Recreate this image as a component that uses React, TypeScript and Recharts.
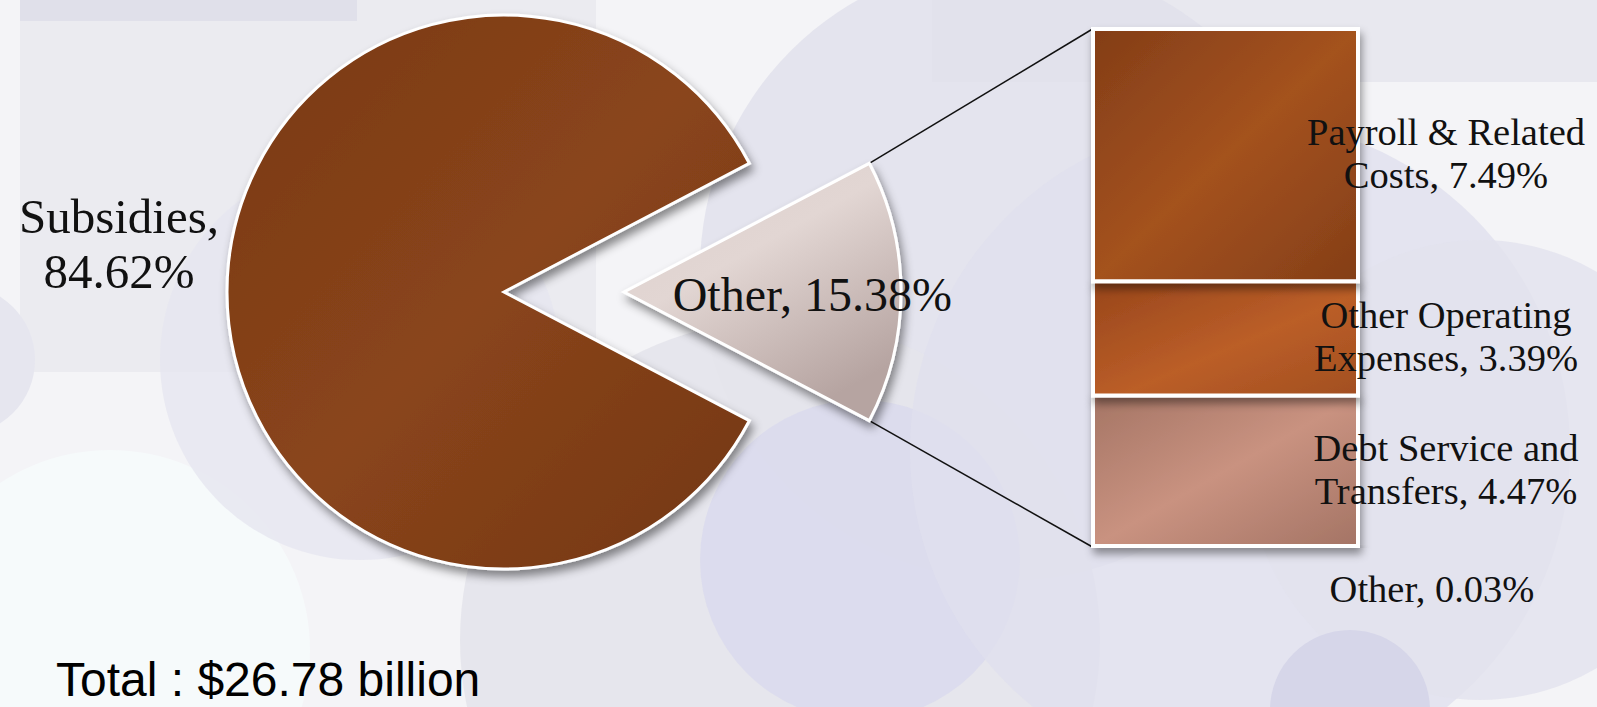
import { PieChart, Pie, Cell, BarChart, Bar, XAxis, YAxis, LabelList } from 'recharts';

// pie: main split
const pieNames = ['Subsidies', 'Other'];
const pieValues = [84.62, 15.38];

// bar: breakdown of "Other", listed bottom to top
const barKeys = ['other', 'debt', 'otherOp', 'payroll'];
const barLines = [['Other'], ['Debt Service and', 'Transfers'], ['Other Operating', 'Expenses'], ['Payroll & Related', 'Costs']];
const barValues = [0.03, 4.47, 3.39, 7.49];

const totalLabel = 'Total : $26.78 billion';

const W = 1597;
const H = 707;
const PIE_CX = 504;
const PIE_CY = 292;
const PIE_R = 277;
const EXPLODE = 120;
const BAR_TOP = 29;
const BAR_BOTTOM = 547;
const BAR_SIZE = 265;
const BAR_W = 736;
const BAR_CENTER = 1225;
const BAR_LEFT = BAR_CENTER - BAR_W / 2;

const serif = '"Liberation Serif", "DejaVu Serif", serif';

const pieData = pieNames.map((name, i) => ({ name, value: pieValues[i] }));
const pieSum = pieValues.reduce((a, b) => a + b, 0);
const half = (pieValues[1] / pieSum) * 180;

const barRow: Record<string, any> = { name: 'Other' };
barKeys.forEach((k, i) => (barRow[k] = barValues[i]));
const barSum = barValues.reduce((a, b) => a + b, 0);

const barFills = ['#7a3a1a', 'url(#gDebt)', 'url(#gOp)', 'url(#gPay)'];

function SubsidiesLabel(props: any) {
  const { cx, cy, outerRadius, midAngle, index, value } = props;
  if (index !== 0) return null;
  const rad = (midAngle * Math.PI) / 180;
  const x = cx + (outerRadius + 108) * Math.cos(rad);
  const y = cy - (outerRadius + 108) * Math.sin(rad);
  return (
    <text x={x} y={y} textAnchor="middle" fontFamily={serif} fontSize={49} fill="#111">
      <tspan x={x} dy={-59}>{pieNames[index]},</tspan>
      <tspan x={x} dy={55}>{value}%</tspan>
    </text>
  );
}

function OtherLabel(props: any) {
  const { cx, cy, outerRadius, midAngle, index, value } = props;
  if (index !== 1) return null;
  const rad = (midAngle * Math.PI) / 180;
  const x = cx + outerRadius * 0.68 * Math.cos(rad);
  const y = cy - outerRadius * 0.68 * Math.sin(rad);
  return (
    <text x={x} y={y + 19} textAnchor="middle" fontFamily={serif} fontSize={48} fill="#111">
      {pieNames[index]}, {value}%
    </text>
  );
}

function barLabel(i: number) {
  return (props: any) => {
    const { x, y, width, height, value } = props;
    const tiny = height < 10;
    const lx = x + width + (tiny ? 74 : 88);
    const lines = barLines[i].slice();
    lines[lines.length - 1] = `${lines[lines.length - 1]}, ${value}%`;
    const top = tiny ? y + height + 55 : y + height / 2 - 10;
    return (
      <text textAnchor="middle" fontFamily={serif} fontSize={38.5} fill="#111">
        {lines.map((l, j) => (
          <tspan key={j} x={lx} y={top + j * 43}>{l}</tspan>
        ))}
      </text>
    );
  };
}

function Background() {
  return (
    <svg width={W} height={H} style={{ position: 'absolute', left: 0, top: 0 }}>
      <rect width={W} height={H} fill="#f4f4f7" />
      <rect x={20} y={0} width={576} height={372} fill="#ebebf0" />
      <rect x={20} y={0} width={337} height={21} fill="#e0e0ea" />
      <rect x={932} y={0} width={665} height={82} fill="#e8e8ef" />
      <circle cx={110} cy={650} r={200} fill="#f6fafb" />
      <circle cx={-40} cy={360} r={75} fill="#e6e6ef" />
      <circle cx={360} cy={360} r={200} fill="#e6e6f0" opacity={0.8} />
      <circle cx={1010} cy={270} r={310} fill="#e0e0eb" opacity={0.8} />
      <circle cx={780} cy={640} r={320} fill="#e4e4eb" opacity={0.9} />
      <circle cx={860} cy={560} r={160} fill="#dadaed" opacity={0.8} />
      <circle cx={1240} cy={450} r={330} fill="#e0e0ee" opacity={0.8} />
      <circle cx={1480} cy={470} r={230} fill="#e2e2ed" opacity={0.8} />
      <circle cx={1350} cy={710} r={80} fill="#d6d6e9" />
    </svg>
  );
}

export default function App() {
  const rad = (half * Math.PI) / 180;
  const tipX = PIE_CX + EXPLODE + PIE_R * Math.cos(rad);
  const tipTop = PIE_CY - PIE_R * Math.sin(rad);
  const tipBot = PIE_CY + PIE_R * Math.sin(rad);
  const barX = BAR_CENTER - BAR_SIZE / 2;

  return (
    <div style={{ position: 'absolute', left: 0, top: 0, width: W, height: H, overflow: 'hidden' }}>
      <Background />
      <svg width={W} height={H} style={{ position: 'absolute', left: 0, top: 0 }}>
        <line x1={tipX} y1={tipTop} x2={barX} y2={BAR_TOP} stroke="#111" strokeWidth={1.5} />
        <line x1={tipX} y1={tipBot} x2={barX} y2={BAR_BOTTOM} stroke="#111" strokeWidth={1.5} />
      </svg>
      <div style={{ position: 'absolute', left: 0, top: 0 }}>
        <PieChart width={1000} height={H} margin={{ top: 0, right: 0, bottom: 0, left: 0 }}>
          <defs>
            <linearGradient id="gSub" x1="0" y1="0" x2="1" y2="1">
              <stop offset="0%" stopColor="#793915" />
              <stop offset="50%" stopColor="#8a451b" />
              <stop offset="100%" stopColor="#733614" />
            </linearGradient>
            <linearGradient id="gOther" x1="0" y1="0" x2="0.6" y2="1">
              <stop offset="0%" stopColor="#dbcecb" />
              <stop offset="45%" stopColor="#e2d6d3" />
              <stop offset="100%" stopColor="#b6a4a1" />
            </linearGradient>
            <filter id="pshadow" x="-20%" y="-20%" width="140%" height="140%">
              <feDropShadow dx="3" dy="6" stdDeviation="5" floodColor="#000" floodOpacity="0.45" />
            </filter>
          </defs>
          <Pie
            data={pieData}
            dataKey="value"
            nameKey="name"
            cx={PIE_CX}
            cy={PIE_CY}
            outerRadius={PIE_R}
            startAngle={half}
            endAngle={half + 360}
            stroke="#fff"
            strokeWidth={3}
            label={SubsidiesLabel}
            labelLine={false}
            isAnimationActive={false}
          >
            <Cell fill="url(#gSub)" filter="url(#pshadow)" />
            <Cell fill="none" stroke="none" />
          </Pie>
          <Pie
            data={pieData}
            dataKey="value"
            nameKey="name"
            cx={PIE_CX + EXPLODE}
            cy={PIE_CY}
            outerRadius={PIE_R}
            startAngle={half}
            endAngle={half + 360}
            stroke="#fff"
            strokeWidth={3}
            label={OtherLabel}
            labelLine={false}
            isAnimationActive={false}
          >
            <Cell fill="none" stroke="none" />
            <Cell fill="url(#gOther)" filter="url(#pshadow)" />
          </Pie>
        </PieChart>
      </div>
      <div style={{ position: 'absolute', left: BAR_LEFT, top: 0 }}>
        <BarChart width={BAR_W} height={H} data={[barRow]} margin={{ top: BAR_TOP, right: 0, bottom: H - BAR_BOTTOM, left: 0 }}>
          <defs>
            <linearGradient id="gPay" x1="0" y1="0" x2="1" y2="1">
              <stop offset="0%" stopColor="#833d17" />
              <stop offset="50%" stopColor="#a4521f" />
              <stop offset="100%" stopColor="#843e17" />
            </linearGradient>
            <linearGradient id="gOp" x1="0" y1="0" x2="1" y2="1">
              <stop offset="0%" stopColor="#98461b" />
              <stop offset="55%" stopColor="#bb5e28" />
              <stop offset="100%" stopColor="#a24f20" />
            </linearGradient>
            <linearGradient id="gDebt" x1="0" y1="0" x2="1" y2="1">
              <stop offset="0%" stopColor="#a57565" />
              <stop offset="50%" stopColor="#c99280" />
              <stop offset="100%" stopColor="#a47465" />
            </linearGradient>
            <filter id="bshadow" x="-20%" y="-20%" width="140%" height="140%">
              <feDropShadow dx="2" dy="6" stdDeviation="4" floodColor="#000" floodOpacity="0.4" />
            </filter>
          </defs>
          <XAxis dataKey="name" hide />
          <YAxis hide domain={[0, barSum]} />
          {barKeys.map((k, i) => (
            <Bar
              key={k}
              dataKey={k}
              stackId="s"
              barSize={BAR_SIZE}
              fill={barFills[i]}
              stroke="#fff"
              strokeWidth={4}
              filter="url(#bshadow)"
              isAnimationActive={false}
            >
              <LabelList dataKey={k} content={barLabel(i)} />
            </Bar>
          ))}
        </BarChart>
      </div>
      <div
        style={{
          position: 'absolute',
          left: 56,
          top: 656,
          fontFamily: '"Liberation Sans", Arial, sans-serif',
          fontSize: 48,
          lineHeight: 1,
          color: '#000',
          whiteSpace: 'nowrap',
        }}
      >
        {totalLabel}
      </div>
    </div>
  );
}
